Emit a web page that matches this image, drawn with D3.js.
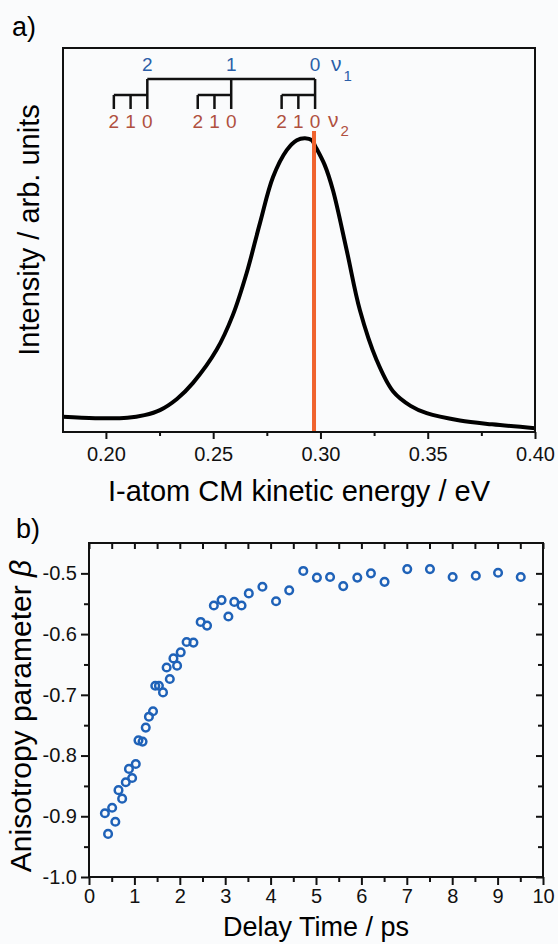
<!DOCTYPE html>
<html>
<head>
<meta charset="utf-8">
<title>I-atom KE and anisotropy</title>
<style>
	body { margin: 0; background: #fafbfc; }
	svg { display: block; font-family: "Liberation Sans", Arial, sans-serif; }
</style>
</head>
<body>
<svg width="558" height="944"></svg>
<script src="https://cdn.jsdelivr.net/npm/d3@7"></script>
<script>
// panel a: kinetic energy distribution (eV, arb. units)
const energyEV = [0.180, 0.195, 0.210, 0.218, 0.2252, 0.2331, 0.2406, 0.2516, 0.2592, 0.2656, 0.2718, 0.2779, 0.2843, 0.2890, 0.2928, 0.2960, 0.2975, 0.3020, 0.3058, 0.3122, 0.3184, 0.3262, 0.3338, 0.342, 0.3495, 0.365, 0.380, 0.400]
const intensity = [0.040, 0.036, 0.037, 0.044, 0.057, 0.086, 0.128, 0.214, 0.305, 0.414, 0.544, 0.664, 0.734, 0.760, 0.765, 0.760, 0.745, 0.695, 0.630, 0.474, 0.317, 0.187, 0.106, 0.068, 0.049, 0.030, 0.020, 0.010]
const markerEnergy = 0.297
// vibrational comb
const nu1Labels = ["2", "1", "0"]
const nu1Energy = [0.2193, 0.2584, 0.2975]
const nu2Labels = ["2", "1", "0"]
const nu2Shift = [0.0156, 0.0078, 0]
const xTicksA = [0.20, 0.25, 0.30, 0.35, 0.40]
const xMinorA = [0.225, 0.275, 0.325, 0.375]

// panel b: anisotropy vs delay
const delayPs = [0.35, 0.42, 0.51, 0.58, 0.65, 0.73, 0.81, 0.88, 0.95, 1.03, 1.09, 1.18, 1.25, 1.32, 1.41, 1.46, 1.54, 1.63, 1.71, 1.78, 1.86, 1.94, 2.02, 2.15, 2.30, 2.46, 2.60, 2.75, 2.92, 3.07, 3.20, 3.36, 3.52, 3.82, 4.12, 4.41, 4.72, 5.02, 5.31, 5.60, 5.91, 6.21, 6.51, 7.01, 7.51, 8.01, 8.52, 9.01, 9.51]
const beta = [-0.895, -0.929, -0.886, -0.909, -0.857, -0.871, -0.844, -0.822, -0.837, -0.814, -0.775, -0.777, -0.754, -0.736, -0.727, -0.685, -0.685, -0.696, -0.655, -0.674, -0.640, -0.652, -0.630, -0.613, -0.614, -0.580, -0.586, -0.553, -0.544, -0.571, -0.547, -0.553, -0.533, -0.522, -0.546, -0.528, -0.496, -0.507, -0.506, -0.521, -0.507, -0.500, -0.514, -0.493, -0.493, -0.506, -0.504, -0.499, -0.506]
const xTicksB = [0, 1, 2, 3, 4, 5, 6, 7, 8, 9, 10]
const xMinorB = [0.5, 1.5, 2.5, 3.5, 4.5, 5.5, 6.5, 7.5, 8.5, 9.5]
const yTicksB = [-1.0, -0.9, -0.8, -0.7, -0.6, -0.5]
const yMinorB = [-0.95, -0.85, -0.75, -0.65, -0.55]

const svg = d3.select("svg")
const blue = "#2b5fa8", red = "#b0503f"

// style helper for tick axes
function tidy(g, labels) {
	g.select(".domain").remove()
	g.selectAll(".tick line").attr("stroke", "#111").attr("stroke-width", 2)
	if (!labels) g.selectAll(".tick text").remove()
	else g.selectAll(".tick text").attr("fill", "#111").attr("font-size", 20).attr("font-family", null)
}

// ---------- panel a ----------
const xa = d3.scaleLinear().domain([0.18, 0.40]).range([63, 535])
const ya = d3.scaleLinear().domain([0, 1]).range([432, 48])

svg.append("text").attr("x", 12).attr("y", 36).attr("font-size", 27).text("a)")

svg.append("g").attr("transform", "translate(0,432)")
	.call(d3.axisBottom(xa).tickValues(xTicksA).tickFormat(d3.format(".2f")).tickSize(7).tickPadding(8))
	.call(g => tidy(g, true))
svg.append("g").attr("transform", "translate(0,432)")
	.call(d3.axisBottom(xa).tickValues(xMinorA).tickSize(4))
	.call(g => tidy(g, false))

// curve
const pts = energyEV.map((e, i) => [e, intensity[i]])
svg.append("path").datum(pts)
	.attr("fill", "none").attr("stroke", "#000").attr("stroke-width", 4).attr("stroke-linejoin", "round")
	.attr("d", d3.line().x(d => xa(d[0])).y(d => ya(d[1])).curve(d3.curveCatmullRom.alpha(0.5)))

// orange marker
svg.append("line")
	.attr("x1", xa(markerEnergy)).attr("x2", xa(markerEnergy))
	.attr("y1", 131).attr("y2", ya(0))
	.attr("stroke", "#f0632e").attr("stroke-width", 4)

// comb
const comb = svg.append("g").attr("stroke", "#111").attr("stroke-width", 2.5).attr("fill", "none")
comb.append("line").attr("x1", xa(d3.min(nu1Energy))).attr("x2", xa(d3.max(nu1Energy))).attr("y1", 79).attr("y2", 79)
nu1Energy.forEach((e, i) => {
	comb.append("line").attr("x1", xa(e)).attr("x2", xa(e)).attr("y1", 79).attr("y2", 95)
	let xs = nu2Shift.map(s => xa(e - s))
	comb.append("line").attr("x1", d3.min(xs)).attr("x2", d3.max(xs)).attr("y1", 95).attr("y2", 95)
	xs.forEach(x => comb.append("line").attr("x1", x).attr("x2", x).attr("y1", 95).attr("y2", 109))
	svg.append("text").attr("x", xa(e)).attr("y", 71).attr("text-anchor", "middle")
		.attr("fill", blue).attr("font-size", 19).text(nu1Labels[i])
	nu2Shift.forEach((s, j) => {
		svg.append("text").attr("x", xa(e - s)).attr("y", 128).attr("text-anchor", "middle")
			.attr("fill", red).attr("font-size", 19).text(nu2Labels[j])
	})
})
const nu1 = svg.append("text").attr("x", 331).attr("y", 71).attr("fill", blue).attr("font-size", 21)
nu1.append("tspan").text("ν")
nu1.append("tspan").attr("dx", 2).attr("dy", 10).attr("font-size", 15).text("1")
const nu2 = svg.append("text").attr("x", 328).attr("y", 127).attr("fill", red).attr("font-size", 21)
nu2.append("tspan").text("ν")
nu2.append("tspan").attr("dx", 2).attr("dy", 9).attr("font-size", 15).text("2")

svg.append("rect").attr("x", 63).attr("y", 48).attr("width", 472).attr("height", 384)
	.attr("fill", "none").attr("stroke", "#111").attr("stroke-width", 2)

svg.append("text").attr("x", 299).attr("y", 501).attr("text-anchor", "middle").attr("font-size", 29)
	.text("I-atom CM kinetic energy / eV")
svg.append("text").attr("transform", "translate(39,230) rotate(-90)").attr("text-anchor", "middle").attr("font-size", 29)
	.text("Intensity / arb. units")

// ---------- panel b ----------
const xb = d3.scaleLinear().domain([0, 10]).range([89, 543])
const yb = d3.scaleLinear().domain([-1.0, -0.45]).range([877, 543])

svg.append("text").attr("x", 16).attr("y", 538).attr("font-size", 27).text("b)")

// bottom (outward)
svg.append("g").attr("transform", "translate(0,877)")
	.call(d3.axisBottom(xb).tickValues(xTicksB).tickFormat(d3.format("d")).tickSize(8).tickPadding(4))
	.call(g => tidy(g, true))
svg.append("g").attr("transform", "translate(0,877)")
	.call(d3.axisBottom(xb).tickValues(xMinorB).tickSize(5))
	.call(g => tidy(g, false))
// top (inward)
svg.append("g").attr("transform", "translate(0,543)")
	.call(d3.axisBottom(xb).tickValues(xTicksB.concat(xMinorB)).tickSize(6))
	.call(g => tidy(g, false))
// left (outward)
svg.append("g").attr("transform", "translate(89,0)")
	.call(d3.axisLeft(yb).tickValues(yTicksB).tickFormat(d => d.toFixed(1)).tickSize(8).tickPadding(4))
	.call(g => tidy(g, true))
svg.append("g").attr("transform", "translate(89,0)")
	.call(d3.axisLeft(yb).tickValues(yMinorB).tickSize(5))
	.call(g => tidy(g, false))
// right (inward)
svg.append("g").attr("transform", "translate(543,0)")
	.call(d3.axisLeft(yb).tickValues(yTicksB).tickSize(7))
	.call(g => tidy(g, false))
svg.append("g").attr("transform", "translate(543,0)")
	.call(d3.axisLeft(yb).tickValues(yMinorB).tickSize(5))
	.call(g => tidy(g, false))

svg.append("rect").attr("x", 89).attr("y", 543).attr("width", 454).attr("height", 334)
	.attr("fill", "none").attr("stroke", "#111").attr("stroke-width", 2)

svg.append("g").selectAll("circle").data(delayPs).enter().append("circle")
	.attr("cx", d => xb(d)).attr("cy", (d, i) => yb(beta[i])).attr("r", 3.8)
	.attr("fill", "none").attr("stroke", "#1f62b8").attr("stroke-width", 2.5)

svg.append("text").attr("x", 316).attr("y", 936).attr("text-anchor", "middle").attr("font-size", 27)
	.text("Delay Time / ps")
const yl = svg.append("text").attr("transform", "translate(31,716) rotate(-90)").attr("text-anchor", "middle").attr("font-size", 30)
yl.append("tspan").text("Anisotropy parameter ")
yl.append("tspan").attr("font-style", "italic").text("β")
</script>
</body>
</html>
